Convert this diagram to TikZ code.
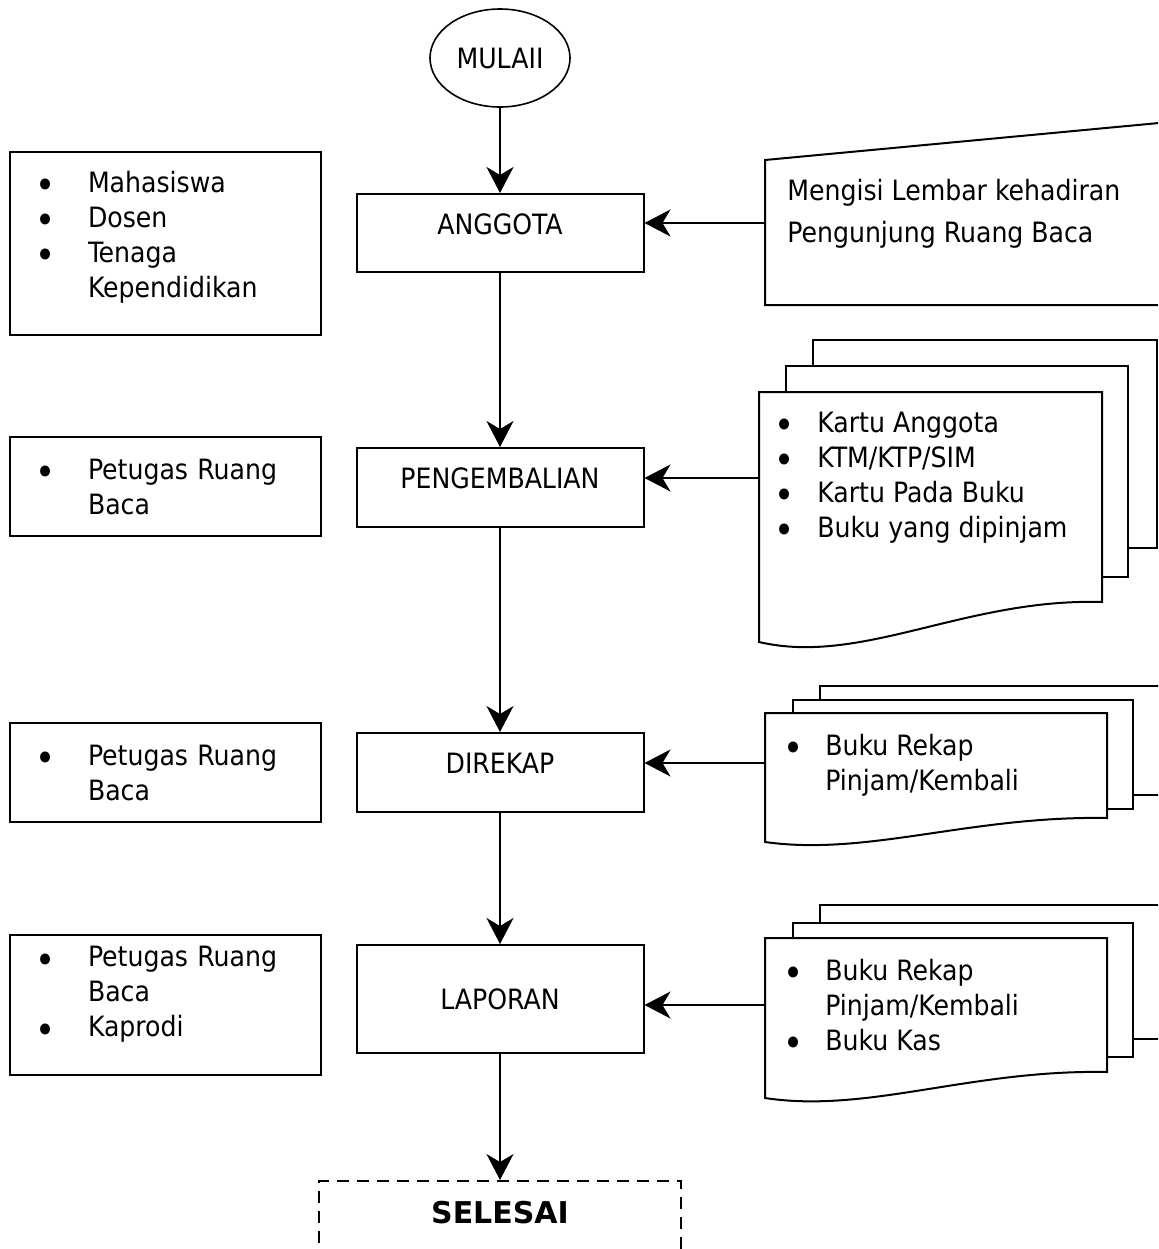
\documentclass[tikz,border=0pt]{standalone}
\usepackage{fontspec}
\setmainfont{DejaVu Sans Condensed}
\newfontfamily\widefont{DejaVu Sans}
\usetikzlibrary{shapes.geometric,arrows.meta}

% bullet item, #1 = width of the bullet column
\newcommand{\itm}[2][25.5pt]{\makebox[#1][l]{\hspace*{-0.5pt}\raisebox{-3.3pt}{\scalebox{1.35}{\textbullet}}}#2}
% front sheet with wavy bottom: x1, top, x2, bottom right, bottom left
\newcommand{\sheet}[5]{%
  \draw[paper] (#1,#2) -- (#3,#2) -- (#3,#4)
    .. controls ({#1+0.6*(#3-#1)},{#4-0.1*(#5-#4)}) and ({#1+0.3*(#3-#1)},{#5+0.6*(#5-#4)}) .. (#1,#5) -- cycle;}

\begin{document}
\begin{tikzpicture}[x=0.5pt,y=-0.5pt,
  font=\fontsize{14}{17.5}\selectfont,
  proc/.style={draw, line width=1pt, minimum width=143.5pt, minimum height=39pt, text height=10pt, text depth=9pt, inner sep=0pt},
  who/.style={draw, line width=1pt, minimum width=155.5pt, text width=128.5pt, inner xsep=13.5pt, align=left},
  paper/.style={draw, line width=1pt, fill=white},
  ket/.style={anchor=base west, inner sep=0pt},
  arr/.style={-{Stealth[length=13pt,width=13.5pt,inset=4pt]}, line width=0.8pt}]
\useasboundingbox (0,0) rectangle (1158,1249);
\clip (0,0) rectangle (1158,1249);

% main flow
\node[ellipse, draw, line width=0.8pt, minimum width=70pt, minimum height=49pt, inner sep=0pt] (mulai) at (500,58) {MULAII};
\node[proc] (anggota) at (500,233) {ANGGOTA};
\node[proc, minimum height=39.5pt] (pengembalian) at (500,487.5) {PENGEMBALIAN};
\node[proc, minimum height=39.5pt] (direkap) at (500,772.5) {DIREKAP};
\node[proc, minimum height=54pt, text depth=0pt] (laporan) at (500,999) {LAPORAN};
\node[draw, dashed, dash pattern=on 6pt off 4pt, line width=1pt, anchor=north, minimum width=181pt, inner sep=0pt, text height=21pt, text depth=22pt] (selesai) at (500,1180) {\fontsize{15}{18}\widefont\bfseries SELESAI};

% who is involved
\node[who, minimum height=91.5pt] (who1) at (165.5,243.5) {\itm{Mahasiswa}\\ \itm{Dosen}\\ \itm{Tenaga}\\ \hspace*{25.5pt}Kependidikan\rule[-9.5pt]{0pt}{9.5pt}};
\node[who, minimum height=49.5pt] (who2) at (165.5,486.5) {\itm{Petugas Ruang}\\ \hspace*{25.5pt}Baca};
\node[who, minimum height=49.5pt] (who3) at (165.5,772.5) {\itm{Petugas Ruang}\\ \hspace*{25.5pt}Baca};
\node[who, minimum height=70pt] (who4) at (165.5,1005) {\itm{Petugas Ruang}\\ \hspace*{25.5pt}Baca\\ \itm{Kaprodi}\rule[-13.5pt]{0pt}{13.5pt}};

% documents
\draw[paper] (765,160) -- (1175,121.5) -- (1175,305) -- (765,305) -- cycle;
\node[ket] (ket1) at (787,200) {\begin{tabular}[t]{@{}l@{}}Mengisi Lembar kehadiran\\[3.5pt] Pengunjung Ruang Baca\end{tabular}};

\draw[paper] (813,340) rectangle (1157,548);
\draw[paper] (786,366) rectangle (1128,577);
\sheet{759}{392}{1102}{602}{642}
\node[ket] (ket2) at (775,432) {\begin{tabular}[t]{@{}l@{}}\itm[21pt]{Kartu Anggota}\\ \itm[21pt]{KTM/KTP/SIM}\\ \itm[21pt]{Kartu Pada Buku}\\ \itm[21pt]{Buku yang dipinjam}\end{tabular}};

\draw[paper] (820,686) rectangle (1175,795);
\draw[paper] (793,700) rectangle (1133,809);
\sheet{765}{713}{1107}{818}{842}
\node[ket] (ket3) at (784,755) {\begin{tabular}[t]{@{}l@{}}\itm[20.5pt]{Buku Rekap}\\ \hspace*{20.5pt}Pinjam/Kembali\end{tabular}};

\draw[paper] (820,905) rectangle (1175,1039);
\draw[paper] (793,923) rectangle (1133,1057);
\sheet{765}{938}{1107}{1072}{1098}
\node[ket] (ket4) at (784,980) {\begin{tabular}[t]{@{}l@{}}\itm[20.5pt]{Buku Rekap}\\ \hspace*{20.5pt}Pinjam/Kembali\\ \itm[20.5pt]{Buku Kas}\end{tabular}};

\coordinate (in1) at (765,223);
\coordinate (in2) at (759,478);
\coordinate (in3) at (765,763);
\coordinate (in4) at (765,1005);

% connectors
\draw[arr] (mulai) -- (anggota);
\draw[arr] (anggota) -- (pengembalian);
\draw[arr] (pengembalian) -- (direkap);
\draw[arr] (direkap) -- (laporan);
\draw[arr] (laporan) -- (selesai);
\draw[arr] (in1) -- (in1 -| anggota.east);
\draw[arr] (in2) -- (in2 -| pengembalian.east);
\draw[arr] (in3) -- (in3 -| direkap.east);
\draw[arr] (in4) -- (in4 -| laporan.east);
\end{tikzpicture}
\end{document}
